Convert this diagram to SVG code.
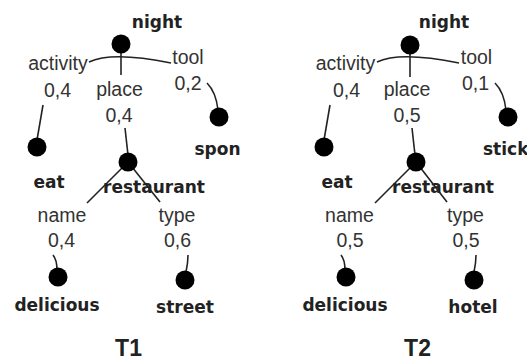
<svg xmlns="http://www.w3.org/2000/svg" width="527" height="360" viewBox="0 0 527 360">
<style>
.n{fill:#000}
.b{font-family:"DejaVu Sans",sans-serif;font-weight:bold;font-size:17px;fill:#222;text-anchor:middle}
.l{font-family:"Liberation Sans",Arial,sans-serif;font-size:19.5px;fill:#333;text-anchor:middle}
.t{font-family:"Liberation Sans",Arial,sans-serif;font-weight:bold;font-size:23px;fill:#222;text-anchor:middle}
.e{fill:none;stroke:#222;stroke-width:1.6}
</style>
<rect width="527" height="360" fill="#fff"/>
<g id="connectors">
<path class="e" d="M89,62 Q112,51 171,63"/>
<path class="e" d="M121,50 L121,75"/>
<path class="e" d="M43,105 L37,140"/>
<path class="e" d="M207,83 Q216,92 218,110"/>
<path class="e" d="M125,128 L128,155"/>
<path class="e" d="M128,162 L87,203"/>
<path class="e" d="M128,162 L160,202"/>
<path class="e" d="M53,255 Q57,260 57,270"/>
<path class="e" d="M188,255 Q188,263 186,272"/>
<path class="e" d="M377,62 Q400,51 459,63"/>
<path class="e" d="M410,51 L410,77"/>
<path class="e" d="M330,105 L324,140"/>
<path class="e" d="M495,83 Q504,92 506,110"/>
<path class="e" d="M412,128 L415,155"/>
<path class="e" d="M416,162 L375,203"/>
<path class="e" d="M416,162 L447,202"/>
<path class="e" d="M341,255 Q345,260 345,270"/>
<path class="e" d="M476,255 Q476,263 474,272"/>
</g>
<g id="t1-night"><circle class="n" cx="121" cy="44" r="9.5"/><text class="b" x="157" y="28">night</text></g>
<g id="t1-eat"><circle class="n" cx="37" cy="147" r="9.5"/><text class="b" x="49" y="188">eat</text></g>
<g id="t1-spon"><circle class="n" cx="219" cy="117" r="9.5"/><text class="b" x="217.5" y="155">spon</text></g>
<g id="t1-restaurant"><circle class="n" cx="128" cy="162" r="9.5"/><text class="b" x="154" y="193">restaurant</text></g>
<g id="t1-delicious"><circle class="n" cx="58" cy="277" r="9.5"/><text class="b" x="57" y="311">delicious</text></g>
<g id="t1-street"><circle class="n" cx="185" cy="280" r="9.5"/><text class="b" x="185" y="313">street</text></g>
<g id="t1-labels">
<text class="l" x="58" y="70">activity</text><text class="l" x="57.5" y="97">0,4</text>
<text class="l" x="119.5" y="96">place</text><text class="l" x="119" y="122">0,4</text>
<text class="l" x="188" y="64">tool</text><text class="l" x="188" y="90">0,2</text>
<text class="l" x="62" y="222">name</text><text class="l" x="61.5" y="247">0,4</text>
<text class="l" x="177" y="222">type</text><text class="l" x="177.5" y="247">0,6</text>
<text class="t" x="128.5" y="356">T1</text>
</g>
<g id="t2-night"><circle class="n" cx="410" cy="45" r="9.5"/><text class="b" x="444" y="28">night</text></g>
<g id="t2-eat"><circle class="n" cx="324" cy="147" r="9.5"/><text class="b" x="337" y="188">eat</text></g>
<g id="t2-stick"><circle class="n" cx="508" cy="117" r="9.5"/><text class="b" x="483" y="155" style="text-anchor:start">stick</text></g>
<g id="t2-restaurant"><circle class="n" cx="416" cy="162" r="9.5"/><text class="b" x="443" y="193">restaurant</text></g>
<g id="t2-delicious"><circle class="n" cx="346" cy="277" r="9.5"/><text class="b" x="345" y="311">delicious</text></g>
<g id="t2-hotel"><circle class="n" cx="474" cy="280" r="9.5"/><text class="b" x="473" y="313">hotel</text></g>
<g id="t2-labels">
<text class="l" x="345.5" y="70">activity</text><text class="l" x="346.5" y="97">0,4</text>
<text class="l" x="407" y="96">place</text><text class="l" x="407" y="122">0,5</text>
<text class="l" x="476.5" y="64">tool</text><text class="l" x="475.5" y="90">0,1</text>
<text class="l" x="349.5" y="222">name</text><text class="l" x="350" y="247">0,5</text>
<text class="l" x="465.5" y="222">type</text><text class="l" x="466" y="247">0,5</text>
<text class="t" x="417.5" y="356">T2</text>
</g>
</svg>
